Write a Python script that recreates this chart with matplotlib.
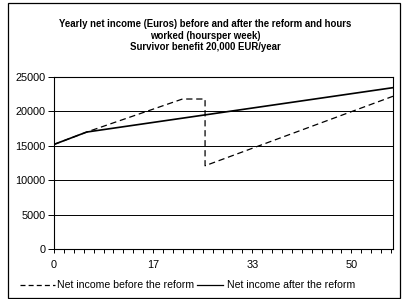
import matplotlib
matplotlib.use("Agg")
import matplotlib.pyplot as plt
from matplotlib.lines import Line2D
from matplotlib.patches import Rectangle

plt.rcParams['font.family'] = ['Liberation Sans', 'DejaVu Sans']

title = ("Yearly net income (Euros) before and after the reform and hours\n"
         "worked (hoursper week)\nSurvivor benefit 20,000 EUR/year")

# hours per week and yearly net income
hours_before = [0, 5.5, 21.6, 25.4, 25.4, 57]
income_before = [15200, 17000, 21800, 21800, 12100, 22200]
hours_after = [0, 5.5, 57]
income_after = [15200, 17000, 23450]

xtick_vals = [0, 50 / 3, 100 / 3, 50]
xtick_labels = ["0", "17", "33", "50"]
minor_xticks = [k * 5 / 3 for k in range(35)]
yticks = [0, 5000, 10000, 15000, 20000, 25000]
label_before = "Net income before the reform"
label_after = "Net income after the reform"

W, H = 405, 299
fig = plt.figure(figsize=(W / 100, H / 100), dpi=100)
fig.patch.set_facecolor("white")

# chart-area border
fig.add_artist(Rectangle((8 / W, 1 - 298 / H), 392 / W, 295 / H,
                         transform=fig.transFigure, fill=False,
                         edgecolor="black", linewidth=0.9))

ax = fig.add_axes([54 / W, 1 - 249 / H, 339 / W, 172 / H])
ax.plot(hours_before, income_before, color="black", linewidth=0.9,
        dashes=(5, 3), label=label_before)
ax.plot(hours_after, income_after, color="black", linewidth=1.2,
        label=label_after)

ax.set_xlim(0, 57)
ax.set_ylim(0, 25000)
ax.set_yticks(yticks)
ax.set_yticklabels([str(v) for v in yticks])
ax.set_xticks(xtick_vals)
ax.set_xticklabels(xtick_labels)
ax.set_xticks(minor_xticks, minor=True)
ax.tick_params(axis="x", which="both", direction="out", length=3,
               width=0.7, labelsize=7.8, pad=5)
ax.tick_params(axis="y", direction="out", length=4, width=0.7,
               labelsize=7.8, pad=2)
for y in yticks[1:]:
    ax.axhline(y, color="black", linewidth=0.7, zorder=0)
for s in ax.spines.values():
    s.set_linewidth(0.8)

fig.text(205 / W, 1 - 19 / H, title, ha="center", va="top",
         fontsize=6.9, fontweight="bold", linespacing=1.2)

# legend drawn manually to match positions
ly = 1 - 285 / H
fig.add_artist(Line2D([20 / W, 55 / W], [ly, ly], color="black",
                      linewidth=0.9, dashes=(4, 2.5),
                      transform=fig.transFigure))
fig.text(57 / W, ly, label_before, ha="left", va="center", fontsize=7.6)
fig.add_artist(Line2D([197 / W, 223 / W], [ly, ly], color="black",
                      linewidth=0.9, transform=fig.transFigure))
fig.text(227 / W, ly, label_after, ha="left", va="center", fontsize=7.6)

fig.savefig("out.png", dpi=100, facecolor="white")
